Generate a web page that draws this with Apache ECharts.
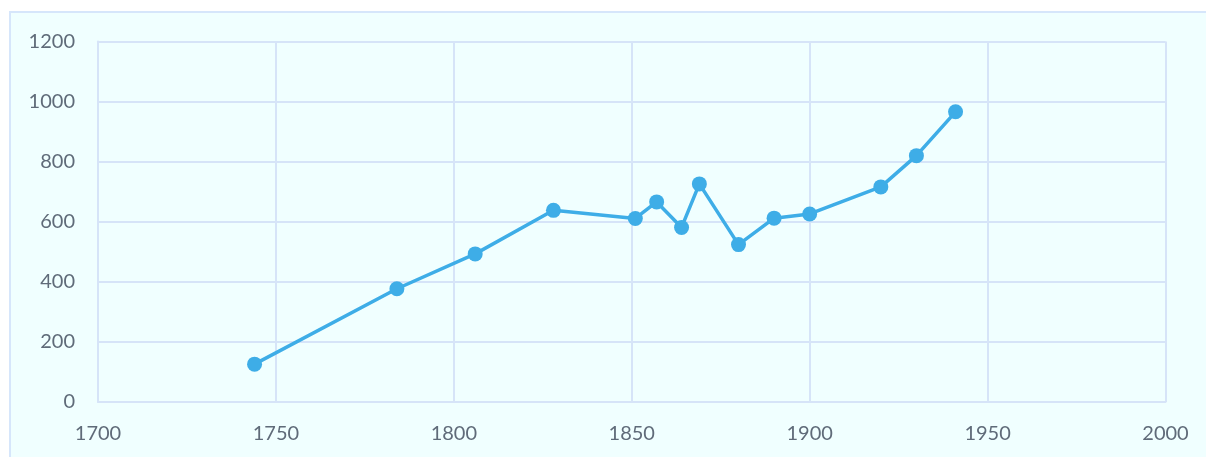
<!DOCTYPE html>
<html>
<head>
<meta charset="utf-8">
<script src="https://cdn.jsdelivr.net/npm/echarts@6/dist/echarts.min.js"></script>
<style>
html,body{margin:0;padding:0;background:#ffffff;overflow:hidden;}
#frame{position:absolute;left:9px;top:11px;width:1230px;height:480px;background:#f0ffff;border:2px solid #d6e6fb;box-sizing:border-box;}
#chart{position:absolute;left:0;top:0;width:1206px;height:457px;}
</style>
</head>
<body>
<div id="frame"></div>
<div id="chart"></div>
<script>
const years = [1744, 1784, 1806, 1828, 1851, 1857, 1864, 1869, 1880, 1890, 1900, 1920, 1930, 1941];
const values = [126, 377, 493, 638, 611, 666, 581, 726, 524, 612, 626, 716, 820, 966];
const xTicks = [1700, 1750, 1800, 1850, 1900, 1950, 2000];
const yTicks = [0, 200, 400, 600, 800, 1000, 1200];

const chart = echarts.init(document.getElementById('chart'), null, {renderer: 'canvas'});
const gridColor = '#d6e4f8';
const labelStyle = {color: '#5f6b79', fontFamily: 'Lato, "Open Sans", sans-serif', fontSize: 20};
chart.setOption({
  animation: false,
  backgroundColor: 'transparent',
  grid: {left: 98, right: 40.5, top: 41.5, bottom: 55, containLabel: false},
  xAxis: {
    type: 'value',
    min: xTicks[0], max: xTicks[xTicks.length - 1], interval: 50,
    axisLine: {show: true, lineStyle: {color: gridColor, width: 2}},
    axisTick: {show: false},
    splitLine: {show: true, lineStyle: {color: gridColor, width: 2}},
    axisLabel: Object.assign({margin: 22, formatter: v => String(v)}, labelStyle)
  },
  yAxis: {
    type: 'value',
    min: yTicks[0], max: yTicks[yTicks.length - 1], interval: 200,
    axisLine: {show: true, lineStyle: {color: gridColor, width: 2}},
    axisTick: {show: false},
    splitLine: {show: true, lineStyle: {color: gridColor, width: 2}},
    axisLabel: Object.assign({margin: 23, formatter: v => String(v)}, labelStyle)
  },
  series: [{
    type: 'line',
    data: years.map((y, i) => [y, values[i]]),
    symbol: 'circle',
    symbolSize: 15,
    lineStyle: {color: '#3eade7', width: 3.5},
    itemStyle: {color: '#3eade7'}
  }]
});
</script>
</body>
</html>
